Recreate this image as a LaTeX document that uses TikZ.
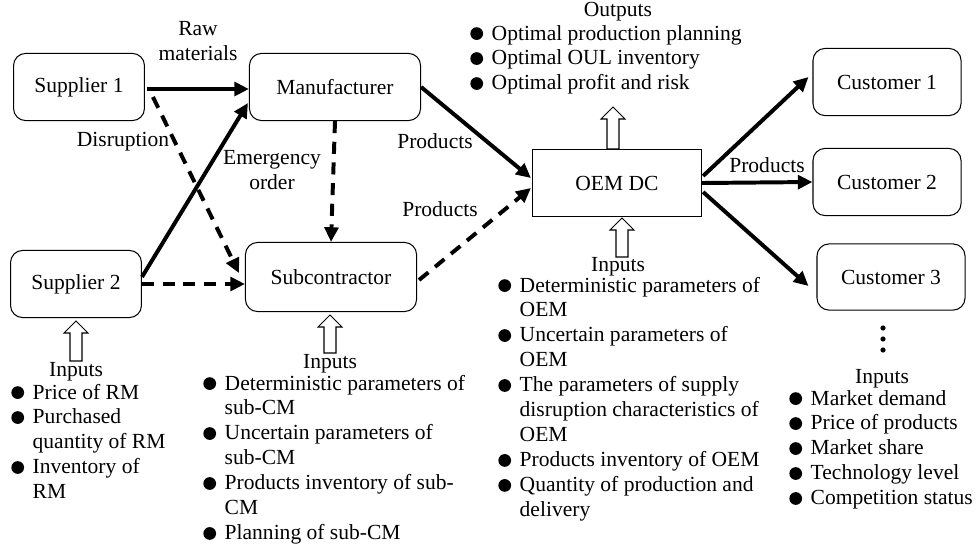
\documentclass[tikz,border=0pt]{standalone}
\usepackage{fontspec}
\setmainfont{Liberation Serif}
\usetikzlibrary{arrows.meta,positioning,calc}

\newcommand{\bul}{\tikz[baseline=-0.65ex]\fill (0,0) circle (0.13cm);}
% hollow up arrow: x, tip y, base y
\newcommand{\inarrow}[3]{%
  \draw[hollowarr] ({#1-6},#3) -- ({#1-6},{#2+12}) -- ({#1-12},{#2+12}) -- (#1,#2)
    -- ({#1+12},{#2+12}) -- ({#1+6},{#2+12}) -- ({#1+6},#3) -- cycle;}

\tikzset{
  box/.style={draw, line width=0.6pt, rounded corners=7pt, minimum height=1.37cm, inner sep=0pt},
  flow/.style={line width=2.3pt, -{Triangle[length=8.5pt,width=8pt]}},
  dflow/.style={flow, dash pattern=on 7pt off 5pt},
  hollowarr/.style={draw, line width=0.6pt, fill=white},
  lbl/.style={inner sep=0pt, align=center},
  inlist/.style={anchor=base west, inner sep=0pt, align=left}
}

\begin{document}
\begin{tikzpicture}[x=0.0204cm, y=-0.0204cm, font=\fontsize{12.5}{14.5}\selectfont]
  \useasboundingbox (0,0) rectangle (977,557);

  % boxes
  \node[box, minimum width=2.67cm] (s1) at (79,87) {Supplier 1};
  \node[box, minimum width=2.67cm] (s2) at (76,284) {Supplier 2};
  \node[box, minimum width=3.49cm] (man) at (335,87) {Manufacturer};
  \node[box, minimum width=3.49cm, minimum height=1.41cm] (sub) at (331,277) {Subcontractor};
  \node[box, rounded corners=0pt, minimum width=3.45cm, minimum height=1.35cm] (oem) at (617,183) {OEM DC};
  \node[box, minimum width=3.02cm] (c1) at (887,82) {Customer 1};
  \node[box, minimum width=3.02cm] (c2) at (887,182) {Customer 2};
  \node[box, minimum width=3.02cm, minimum height=1.35cm] (c3) at (891,277) {Customer 3};

  % flows
  \draw[flow] ($(s1.east)+(2,2)$) -- ($(man.west)+(0,2)$);
  \draw[dflow] ($(s1.east)+(8,10)$) -- ($(sub.west)+(-6,-4)$);
  \draw[flow] ($(s2.east)+(0,-7)$) -- ($(man.west)+(-1,16)$);
  \draw[dflow] (s2.east) -- (sub.west |- s2.east);
  \draw[dflow] (man.south) -- (sub.north);
  \draw[flow] (man.east) -- ($(oem.west)+(-1,-5)$);
  \draw[dflow] ($(sub.east)+(2,3)$) -- ($(oem.west)+(-1,5)$);
  \draw[flow] ($(oem.east)+(1,-7)$) -- ($(c1.west)+(-4,-5)$);
  \draw[flow] (oem.east) -- (c2.west);
  \draw[flow] ($(oem.east)+(1,9)$) -- ($(c3.west)+(-8,9)$);

  % flow labels
  \node[lbl] (lraw) at (198,41) {Raw\\materials};
  \node[lbl] (ldis) at (123,142) {Disruption};
  \node[lbl] (lemg) at (272,170) {Emergency\\order};
  \node[lbl] (lpr1) at (435,141) {Products};
  \node[lbl] (lpr2) at (440,209) {Products};
  \node[lbl] (lpr3) at (767,165) {Products};

  % hollow arrows
  \inarrow{76}{321}{361}
  \inarrow{330}{315}{353}
  \inarrow{613}{107}{149}
  \inarrow{622}{218}{257}

  % supplier inputs
  \node[lbl] (ins) at (76,372) {Inputs};
  \node[inlist] (lists) at (11,399) {\begin{tabular}[t]{@{}l@{\hspace{5pt}}l@{}}
    \bul & Price of RM\\
    \bul & Purchased\\
         & quantity of RM\\
    \bul & Inventory of\\
         & RM
  \end{tabular}};

  % subcontractor inputs
  \node[lbl] (insub) at (330,364) {Inputs};
  \node[inlist] (listsub) at (203,390) {\begin{tabular}[t]{@{}l@{\hspace{5pt}}l@{}}
    \bul & Deterministic parameters of\\
         & sub-CM\\
    \bul & Uncertain parameters of\\
         & sub-CM\\
    \bul & Products inventory of sub-\\
         & CM\\
    \bul & Planning of sub-CM
  \end{tabular}};

  % OEM inputs
  \node[lbl] (inoem) at (618,267) {Inputs};
  \node[inlist] (listoem) at (498,292) {\begin{tabular}[t]{@{}l@{\hspace{5pt}}l@{}}
    \bul & Deterministic parameters of\\
         & OEM\\
    \bul & Uncertain parameters of\\
         & OEM\\
    \bul & The parameters of supply\\
         & disruption characteristics of\\
         & OEM\\
    \bul & Products inventory of OEM\\
    \bul & Quantity of production and\\
         & delivery
  \end{tabular}};

  % OEM outputs
  \node[lbl] (outoem) at (618,12) {Outputs};
  \node[inlist] (listout) at (470,40) {\begin{tabular}[t]{@{}l@{\hspace{5pt}}l@{}}
    \bul & Optimal production planning\\
    \bul & Optimal OUL inventory\\
    \bul & Optimal profit and risk
  \end{tabular}};

  % customer dots and inputs
  \foreach \y in {328,339,350}
    \fill (883,\y) circle (2.6);
  \node[lbl] (incus) at (882,379) {Inputs};
  \node[inlist] (listcus) at (789,405) {\begin{tabular}[t]{@{}l@{\hspace{5pt}}l@{}}
    \bul & Market demand\\
    \bul & Price of products\\
    \bul & Market share\\
    \bul & Technology level\\
    \bul & Competition status
  \end{tabular}};
\end{tikzpicture}
\end{document}
